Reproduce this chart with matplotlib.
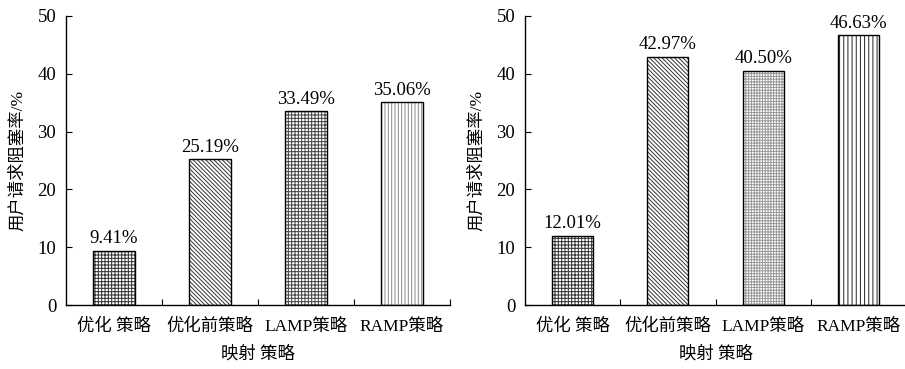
import matplotlib
matplotlib.use("Agg")
import matplotlib.pyplot as plt
import numpy as np

plt.rcParams["font.family"] = ["Liberation Serif", "Noto Sans CJK SC"]
plt.rcParams["hatch.linewidth"] = 0.7

# === Data ===
categories = ["优化 策略", "优化前策略", "LAMP策略", "RAMP策略"]
left_values = [9.41, 25.19, 33.49, 35.06]
right_values = [12.01, 42.97, 40.50, 46.63]
yticks = [0, 10, 20, 30, 40, 50]

left_hatches = ["+++++", "\\\\\\\\\\\\\\\\", "+++++", "|||||"]
left_hatch_colors = ["#333333", "#333333", "#444444", "#888888"]
right_hatches = ["+++++", "\\\\\\\\\\\\\\\\", "++++++", "||||"]
right_hatch_colors = ["#333333", "#333333", "#999999", "#222222"]

fig = plt.figure(figsize=(9.05, 3.69), dpi=100)
W, H = 905, 369


def draw(ax_rect, values, hatches, hcolors):
    ax = fig.add_axes(ax_rect)
    x = np.arange(len(values))
    # hatch layer then black outline
    for xi, v, h, c in zip(x, values, hatches, hcolors):
        ax.bar(xi, v, width=0.43, color="white", edgecolor=c, hatch=h, linewidth=0)
        ax.bar(xi, v, width=0.43, color="none", edgecolor="black", linewidth=1.0)
        ax.text(xi, v + 0.6, f"{v:.2f}%", ha="center", va="bottom", fontsize=13.5)
    ax.set_xlim(-0.5, len(values) - 0.5)
    ax.set_ylim(0, 50)
    ax.set_yticks(yticks)
    ax.tick_params(axis="y", direction="in", length=4, labelsize=13.5, pad=7)
    ax.set_xticks(x + 0.5, minor=False)
    ax.set_xticklabels([""] * len(x))
    ax.tick_params(axis="x", direction="in", length=4)
    ax.set_xticks(x, minor=True)
    ax.set_xticklabels(categories, minor=True, fontsize=12.5)
    ax.tick_params(axis="x", which="minor", length=0, pad=10)
    for s in ["top", "right"]:
        ax.spines[s].set_visible(False)
    ax.spines["left"].set_linewidth(1.0)
    ax.spines["bottom"].set_linewidth(1.0)
    ax.set_ylabel("用户请求阻塞率/%", fontsize=12.5, labelpad=8)
    ax.set_xlabel("映射 策略", fontsize=12.5, labelpad=8)
    return ax


draw([66 / W, 1 - 305 / H, (450 - 66) / W, (305 - 16) / H],
     left_values, left_hatches, left_hatch_colors)
draw([525 / W, 1 - 305 / H, (906 - 525) / W, (305 - 16) / H],
     right_values, right_hatches, right_hatch_colors)

fig.savefig("out.png", dpi=100)
